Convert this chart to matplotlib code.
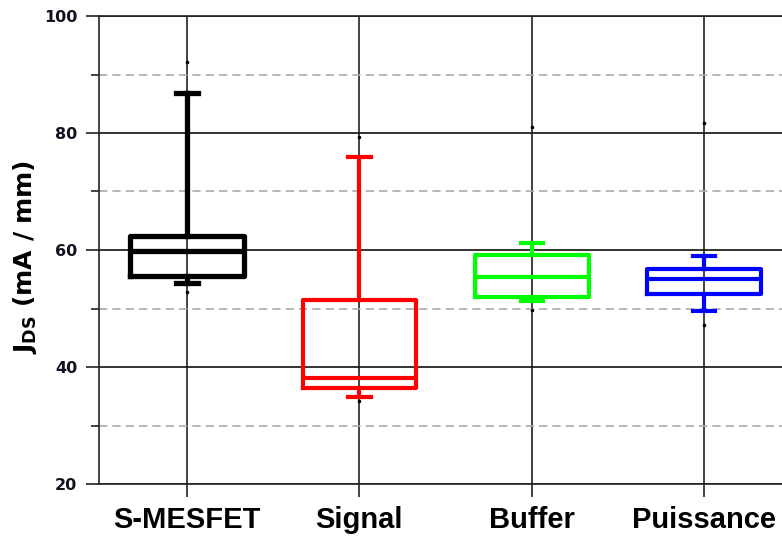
import matplotlib
matplotlib.use("Agg")
import matplotlib.pyplot as plt
from matplotlib.ticker import MultipleLocator

categories = ["S-MESFET", "Signal", "Buffer", "Puissance"]
colors = ["#000000", "#ff0000", "#00ff00", "#0000ff"]
whisker_low = [54.4, 34.8, 51.3, 49.6]
q1 = [55.5, 36.4, 52.0, 52.5]
median = [59.8, 38.1, 55.4, 55.0]
q3 = [62.4, 51.4, 59.1, 56.7]
whisker_high = [86.8, 75.9, 61.2, 59.0]
min_pt = [52.8, 34.2, 49.7, 47.2]
max_pt = [92.1, 79.3, 81.0, 81.7]
lws = [3.8, 3.0, 3.0, 3.0]

fig = plt.figure(figsize=(7.82, 5.36), dpi=100)
ax = fig.add_axes([99/782, 1-484/536, 683/782, 468/536])

positions = list(range(1, len(categories) + 1))
for i, pos in enumerate(positions):
    st = [dict(whislo=whisker_low[i], q1=q1[i], med=median[i], q3=q3[i],
               whishi=whisker_high[i], fliers=[min_pt[i], max_pt[i]])]
    c = colors[i]
    lw = lws[i]
    ax.bxp(st, positions=[pos], widths=0.66, capwidths=0.13, showfliers=True,
           boxprops=dict(color=c, linewidth=lw),
           medianprops=dict(color=c, linewidth=lw),
           whiskerprops=dict(color=c, linewidth=lw),
           capprops=dict(color=c, linewidth=lw),
           flierprops=dict(marker='o', markersize=1.6, markerfacecolor='black',
                           markeredgecolor='black', linestyle='none'),
           manage_ticks=False, zorder=3)

ax.set_xlim(0.489, 4.452)
ax.set_ylim(20, 100)
ax.set_xticks(positions)
ax.set_xticklabels(categories, fontsize=21, fontweight='bold', family='Liberation Sans')
ax.yaxis.set_major_locator(MultipleLocator(20))
ax.yaxis.set_minor_locator(MultipleLocator(10))
for lbl in ax.get_yticklabels():
    lbl.set_fontweight('bold')
    lbl.set_fontsize(11.5)
    lbl.set_color('#111122')
ax.tick_params(axis='y', which='major', direction='out', length=9.5, width=1.2, color='#222222', pad=6)
ax.tick_params(axis='y', which='minor', direction='out', length=6, width=1.2, color='#222222')
ax.tick_params(axis='x', which='major', direction='out', length=9.5, width=1.2, color='#222222', pad=6)

ax.grid(True, which='major', axis='y', color='#111111', linewidth=1.2, zorder=1)
ax.grid(True, which='minor', axis='y', color='#aaaaaa', linewidth=1.2, linestyle=(0, (5, 3)), zorder=1)
ax.grid(True, which='major', axis='x', color='#222222', linewidth=1.2, zorder=1)
ax.set_axisbelow(True)

for s in ['left', 'top', 'bottom']:
    ax.spines[s].set_color('#222222')
    ax.spines[s].set_linewidth(1.2)
ax.spines['right'].set_visible(False)

ax.set_ylabel(r"J$_{\mathbf{DS}}$ (mA / mm)", fontsize=18, fontweight='bold', labelpad=6)
ax.yaxis.set_label_coords(-0.088, 0.485)

fig.savefig("out.png", dpi=100)
